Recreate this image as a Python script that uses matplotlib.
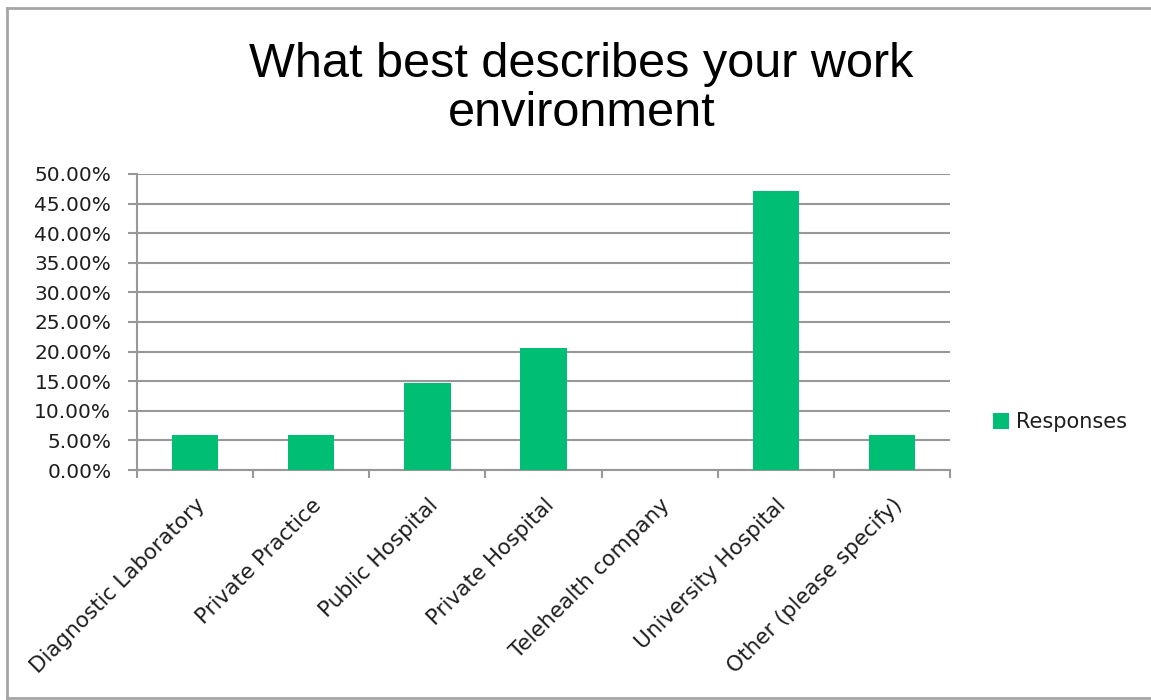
import matplotlib.pyplot as plt
from matplotlib.lines import Line2D
from matplotlib.ticker import PercentFormatter

categories = ["Diagnostic Laboratory", "Private Practice", "Public Hospital",
              "Private Hospital", "Telehealth company", "University Hospital",
              "Other (please specify)"]
responses = [0.0588, 0.0588, 0.1471, 0.2059, 0.0, 0.4706, 0.0588]

green = "#00BE73"
grid_grey = "#989898"
text_col = "#1E1E1E"
W, H = 1151, 700

fig = plt.figure(figsize=(W / 100, H / 100), dpi=100)
ax = fig.add_axes([137 / W, 1 - 470 / H, (950 - 137) / W, (470 - 174) / H])

x = range(len(categories))
ax.bar(x, responses, width=0.4, color=green, label="Responses", zorder=3)

ax.set_xlim(-0.5, len(categories) - 0.5)
ax.set_ylim(0, 0.5)
ax.set_yticks([i * 0.05 for i in range(11)])
ax.yaxis.set_major_formatter(PercentFormatter(1.0, decimals=2))
ax.grid(axis="y", color=grid_grey, linewidth=1.5, zorder=0)

# tick marks on the category boundaries, labels under the bar centres
ax.set_xticks([i - 0.5 for i in range(len(categories) + 1)])
ax.set_xticklabels([])
ax.set_xticks(list(x), minor=True)
ax.set_xticklabels(categories, minor=True, rotation=45, ha="right",
                   rotation_mode="anchor", fontsize=15.5, family="DejaVu Sans",
                   color=text_col)
ax.tick_params(axis="x", which="minor", length=0, pad=18)
ax.tick_params(axis="x", which="major", length=6, color=grid_grey, width=1.5)
ax.tick_params(axis="y", length=6.5, color=grid_grey, width=1.5, pad=12,
               labelsize=14.5, labelcolor=text_col)

for side in ("top", "right"):
    ax.spines[side].set_visible(False)
for side in ("left", "bottom"):
    ax.spines[side].set_color(grid_grey)
    ax.spines[side].set_linewidth(1.5)

fig.text(0.505, 1 - 89 / H, "What best describes your work\nenvironment",
         ha="center", va="center", fontsize=35, family="Liberation Sans",
         linespacing=1.12)

fig.legend(loc="center left", bbox_to_anchor=(974 / W, 1 - 422 / H),
           frameon=False, prop={"family": "DejaVu Sans", "size": 15},
           handlelength=0.8, handleheight=0.8, handletextpad=0.3,
           labelcolor=text_col)

# outer chart frame (left, top and bottom edges)
frame_kw = dict(transform=fig.transFigure, color="#A6A6A6", linewidth=2)
fig.lines.append(Line2D([7 / W, 7 / W], [1 - 8 / H, 1 - 698 / H], **frame_kw))
fig.lines.append(Line2D([7 / W, 1], [1 - 8 / H, 1 - 8 / H], **frame_kw))
fig.lines.append(Line2D([7 / W, 1], [1 - 698 / H, 1 - 698 / H], **frame_kw))

fig.savefig("out.png", dpi=100)
